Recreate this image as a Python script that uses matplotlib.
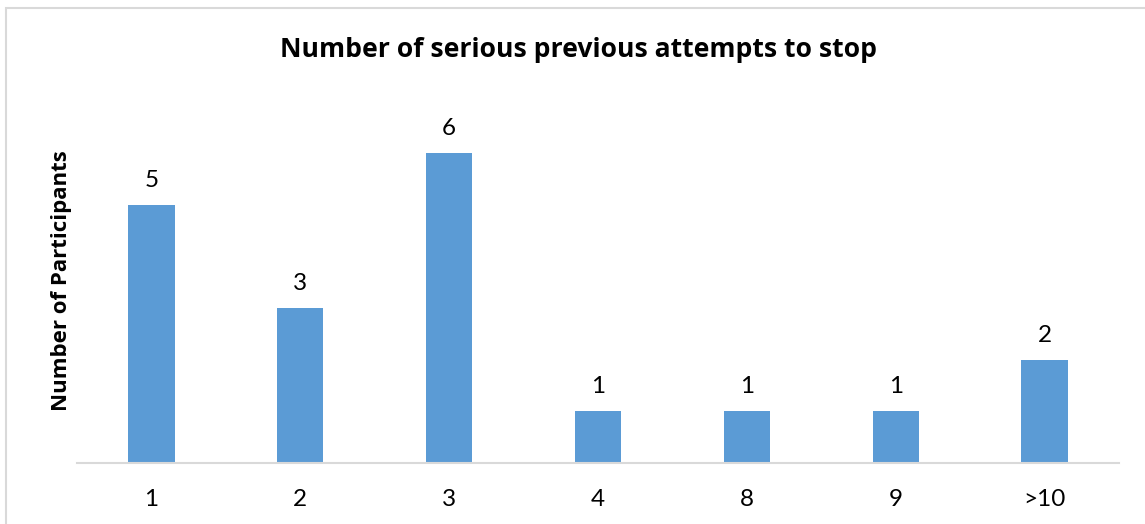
import matplotlib
matplotlib.use("Agg")
import matplotlib.pyplot as plt
from matplotlib.patches import Rectangle

categories = ["1", "2", "3", "4", "8", "9", ">10"]
participants = [5, 3, 6, 1, 1, 1, 2]

plt.rcParams['font.family'] = ['Lato', 'DejaVu Sans']

W, H = 1145, 524
fig = plt.figure(figsize=(W / 100, H / 100), dpi=100)

# chart frame
fig.patches.append(Rectangle((6 / W, -0.05), 1.2, (H - 8) / H + 0.05,
                             transform=fig.transFigure, fill=False,
                             edgecolor="#d9d9d9", linewidth=1.5))

ax = fig.add_axes([77 / W, (H - 463) / H, (1119 - 77) / W, (463 - 101.3) / H])
x = range(len(categories))
bars = ax.bar(x, participants, width=0.31, color="#5B9BD5")

ax.set_xlim(-0.5, len(categories) - 0.5)
ax.set_ylim(0, 7)
ax.set_xticks(list(x))
ax.set_xticklabels(categories, fontsize=17.5, color="#000000")
ax.tick_params(axis="x", length=0, pad=19)
ax.set_yticks([])
for s in ["top", "right", "left"]:
    ax.spines[s].set_visible(False)
ax.spines["bottom"].set_color("#d9d9d9")
ax.spines["bottom"].set_linewidth(1.5)

for xi, v in zip(x, participants):
    ax.annotate(str(v), (xi, v), xytext=(0, 10), textcoords="offset points",
                ha="center", va="bottom", fontsize=17.5)

bold = ['Open Sans', 'DejaVu Sans']
fig.text(578 / W, 1 - 50 / H, "Number of serious previous attempts to stop",
         ha="center", va="center", fontsize=19.1, fontweight="bold", family=bold)
fig.text(62 / W, 1 - 281 / H, "Number of Participants", rotation=90,
         ha="center", va="center", fontsize=16, fontweight="bold", family=bold)

fig.savefig("out.png", dpi=100)
